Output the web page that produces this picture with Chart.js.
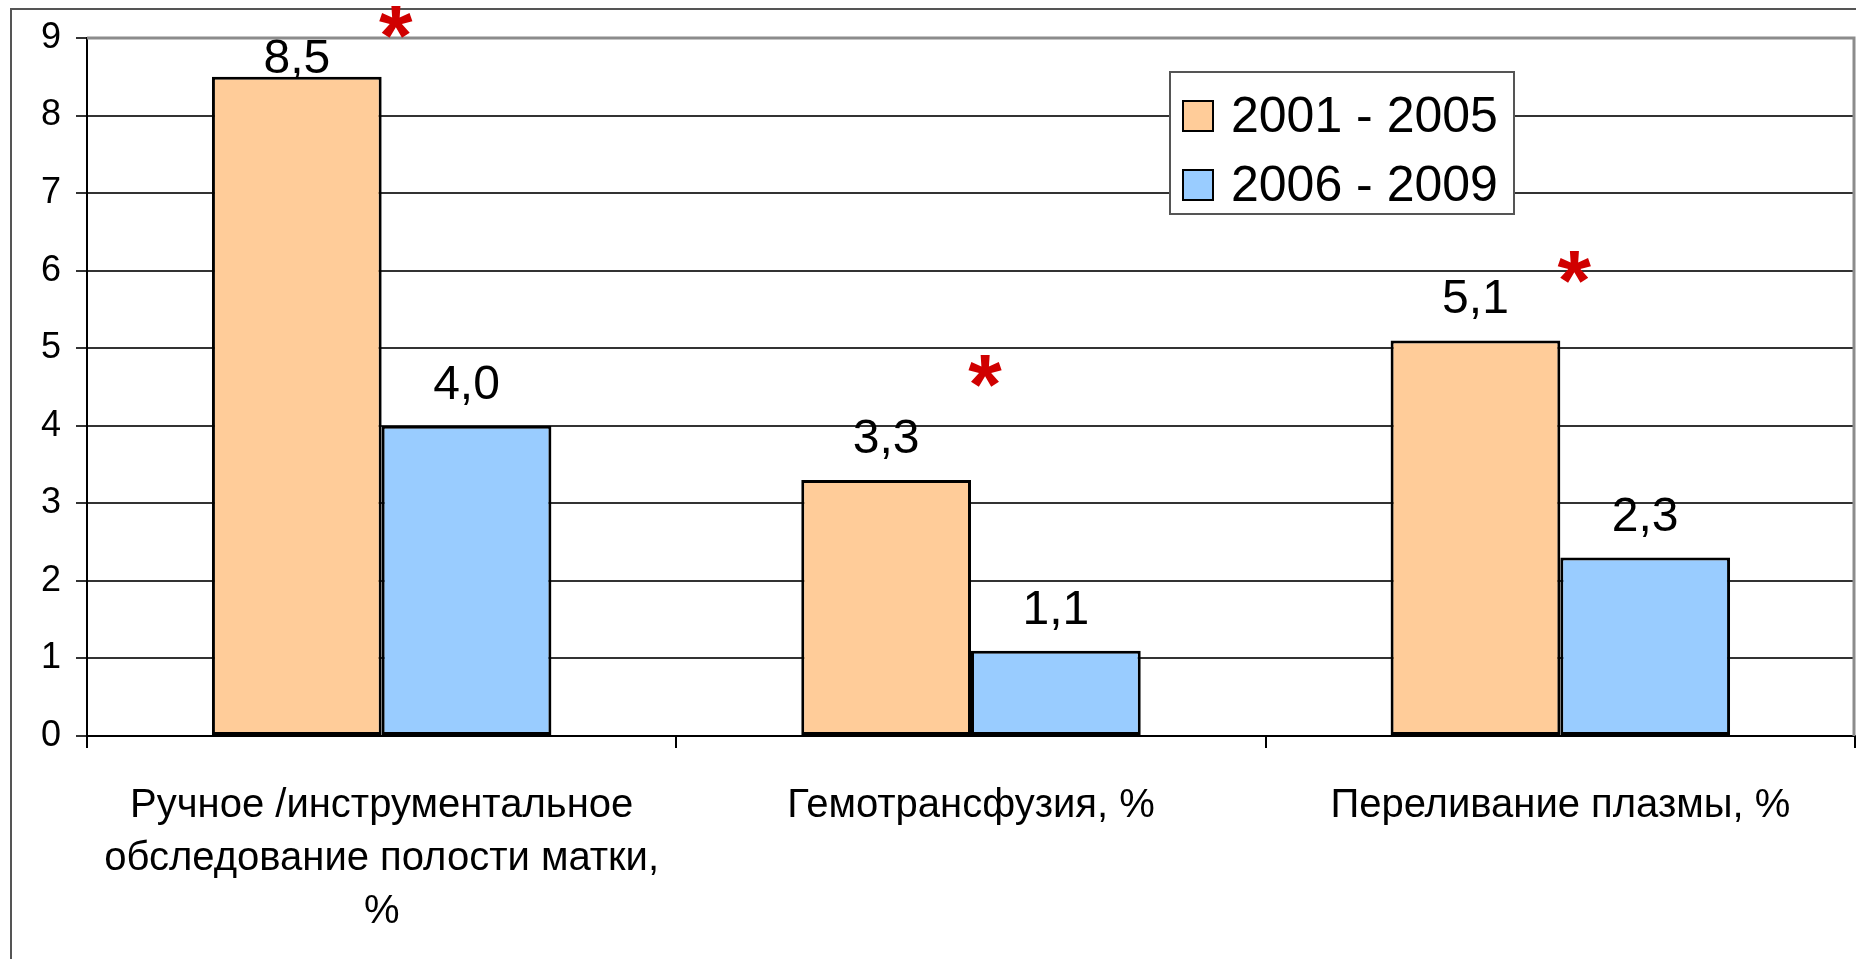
<!DOCTYPE html>
<html>
<head>
<meta charset="utf-8">
<script src="https://cdn.jsdelivr.net/npm/chart.js"></script>
<style>
html, body { margin: 0; padding: 0; background: #fff; overflow: hidden; }
</style>
</head>
<body>
<canvas id="myChart" width="1856" height="959"></canvas>
<script>
var categories = [
    ["Ручное /инструментальное", "обследование полости матки,", "%"],
    "Гемотрансфузия, %",
    "Переливание плазмы, %"
];
var seriesNames = ["2001 - 2005", "2006 - 2009"];
var values2001 = [8.5, 3.3, 5.1];
var values2006 = [4.0, 1.1, 2.3];
var barColors = ["#ffcc99", "#99ccff"];
var yTicks = [0, 1, 2, 3, 4, 5, 6, 7, 8, 9];
// where the red significance stars sit (y value)
var starLevels = [9.2, 4.7, 6.05];

var FONT = "'Liberation Sans', Arial, sans-serif";

// outer frame + plot area border
var framePlugin = {
    id: "frame",
    beforeDraw: function (chart) {
        var ctx = chart.ctx;
        ctx.save();
        ctx.fillStyle = "#fff";
        ctx.fillRect(0, 0, chart.width, chart.height);
        ctx.strokeStyle = "#555";
        ctx.lineWidth = 2;
        ctx.beginPath();
        ctx.moveTo(11, chart.height);
        ctx.lineTo(11, 9);
        ctx.lineTo(chart.width, 9);
        ctx.stroke();
        ctx.restore();
    },
    beforeDatasetsDraw: function (chart) {
        var a = chart.chartArea;
        var ctx = chart.ctx;
        ctx.save();
        ctx.strokeStyle = "#8c8c8c";
        ctx.lineWidth = 3;
        ctx.beginPath();
        ctx.moveTo(a.left, a.top);
        ctx.lineTo(a.right - 1, a.top);
        ctx.lineTo(a.right - 1, a.bottom);
        ctx.stroke();
        ctx.restore();
    }
};

// value labels over the bars, decimal comma
var labelPlugin = {
    id: "valueLabels",
    afterDatasetsDraw: function (chart) {
        var ctx = chart.ctx;
        ctx.save();
        ctx.font = "48px " + FONT;
        ctx.fillStyle = "#000";
        ctx.textAlign = "center";
        ctx.textBaseline = "alphabetic";
        chart.data.datasets.forEach(function (ds, i) {
            chart.getDatasetMeta(i).data.forEach(function (bar, j) {
                var txt = ds.data[j].toFixed(1).replace(".", ",");
                var y = Math.max(bar.y - 27, chart.chartArea.top + 35);
                ctx.fillText(txt, bar.x, y);
            });
        });
        ctx.restore();
    }
};

// red asterisks
var starPlugin = {
    id: "stars",
    afterDatasetsDraw: function (chart) {
        var ctx = chart.ctx;
        var xs = chart.scales.x, ys = chart.scales.y;
        ctx.save();
        ctx.font = "bold 86px " + FONT;
        ctx.fillStyle = "#d00000";
        ctx.textAlign = "center";
        ctx.textBaseline = "alphabetic";
        var m = ctx.measureText("*");
        var shift = (m.actualBoundingBoxAscent - m.actualBoundingBoxDescent) / 2;
        starLevels.forEach(function (v, i) {
            ctx.fillText("*", xs.getPixelForValue(i) + 14, ys.getPixelForValue(v) + shift);
        });
        ctx.restore();
    }
};

// boxed legend inside the plot
var legendPlugin = {
    id: "boxLegend",
    afterDraw: function (chart) {
        var ctx = chart.ctx;
        var x0 = 1170, y0 = 72, w = 344, h = 142;
        ctx.save();
        ctx.fillStyle = "#fff";
        ctx.fillRect(x0, y0, w, h);
        ctx.strokeStyle = "#555";
        ctx.lineWidth = 2;
        ctx.strokeRect(x0, y0, w, h);
        ctx.font = "50px " + FONT;
        ctx.textAlign = "left";
        ctx.textBaseline = "middle";
        chart.data.datasets.forEach(function (ds, i) {
            var cy = y0 + 44 + i * 69;
            ctx.fillStyle = ds.backgroundColor;
            ctx.fillRect(x0 + 13, cy - 15, 30, 30);
            ctx.strokeStyle = "#000";
            ctx.lineWidth = 2;
            ctx.strokeRect(x0 + 13, cy - 15, 30, 30);
            ctx.fillStyle = "#000";
            ctx.fillText(ds.label, x0 + 61, cy + 2);
        });
        ctx.restore();
    }
};

new Chart("myChart", {
    type: "bar",
    data: {
        labels: categories,
        datasets: [{
            label: seriesNames[0],
            data: values2001,
            backgroundColor: barColors[0],
            borderColor: "#000",
            borderWidth: 3,
            borderSkipped: false
        }, {
            label: seriesNames[1],
            data: values2006,
            backgroundColor: barColors[1],
            borderColor: "#000",
            borderWidth: 3,
            borderSkipped: false
        }]
    },
    options: {
        responsive: false,
        animation: false,
        events: [],
        layout: { padding: { top: 38, left: 0, right: 1, bottom: 0 } },
        datasets: { bar: { categoryPercentage: 0.576, barPercentage: 1 } },
        plugins: {
            legend: { display: false },
            title: { display: false },
            tooltip: { enabled: false }
        },
        scales: {
            x: {
                grid: {
                    offset: true,
                    drawOnChartArea: false,
                    color: "#000",
                    lineWidth: 2,
                    tickLength: 12
                },
                border: { color: "#000", width: 2 },
                ticks: {
                    color: "#000",
                    font: { family: FONT, size: 40, lineHeight: 1.33 },
                    padding: 31,
                    maxRotation: 0,
                    autoSkip: false
                },
                afterFit: function (s) { s.height = 223; }
            },
            y: {
                min: 0,
                max: 9,
                afterBuildTicks: function (s) {
                    s.ticks = yTicks.map(function (v) { return { value: v }; });
                },
                grid: {
                    color: "#333",
                    lineWidth: 2,
                    tickLength: 11
                },
                border: { color: "#000", width: 2 },
                ticks: {
                    color: "#000",
                    font: { family: FONT, size: 36 },
                    padding: 15
                },
                afterFit: function (s) { s.width = 87; }
            }
        }
    },
    plugins: [framePlugin, labelPlugin, starPlugin, legendPlugin]
});
</script>
</body>
</html>
